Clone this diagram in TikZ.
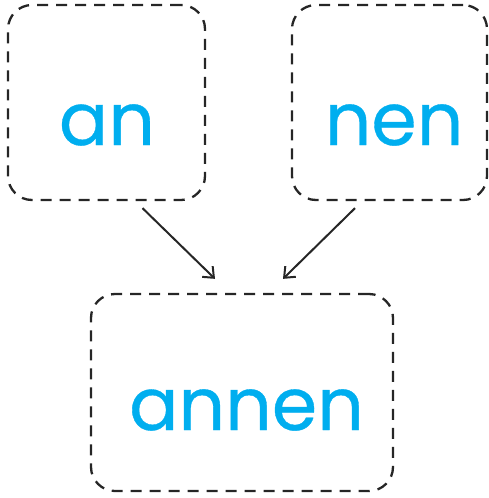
\documentclass[tikz,border=0pt]{standalone}
\usepackage{fontspec}
\usepackage{xcolor}
\usetikzlibrary{arrows.meta}
\newfontfamily\wordfont{Poppins}[FakeBold=0.5]
\definecolor{wordblue}{HTML}{00AEEF}

\begin{document}
\begin{tikzpicture}[x=1pt, y=-1pt,
  wordbox/.style={draw, dash pattern=on 11pt off 8pt, line width=2.3pt, rounded corners=24pt, color=black!85},
  word/.style={text=wordblue, font=\wordfont\fontsize{73}{78}\selectfont, inner sep=0pt},
  link/.style={-{Straight Barb[length=9pt, width=15pt]}, line width=2pt, color=black!85}]
\useasboundingbox (0,0) rectangle (488,498);

\node[wordbox, minimum width=197pt, minimum height=195pt] (anbox) at (106.5,102.5) {};
\node[wordbox, minimum width=195pt, minimum height=195pt] (nenbox) at (389.5,102.5) {};
\node[wordbox, minimum width=302pt, minimum height=197pt] (annenbox) at (242,392.5) {};

\node[word] (an) at (107,125) {an};
\node[word] (nen) at (394,125) {nen};
\node[word] (annen) at (246.5,410) {annen};

\draw[link] ([shift={(36,7)}]anbox.south) -- ([shift={(-27,-14)}]annenbox.north);
\draw[link] ([shift={(-34.5,7)}]nenbox.south) -- ([shift={(41,-14)}]annenbox.north);
\end{tikzpicture}
\end{document}
